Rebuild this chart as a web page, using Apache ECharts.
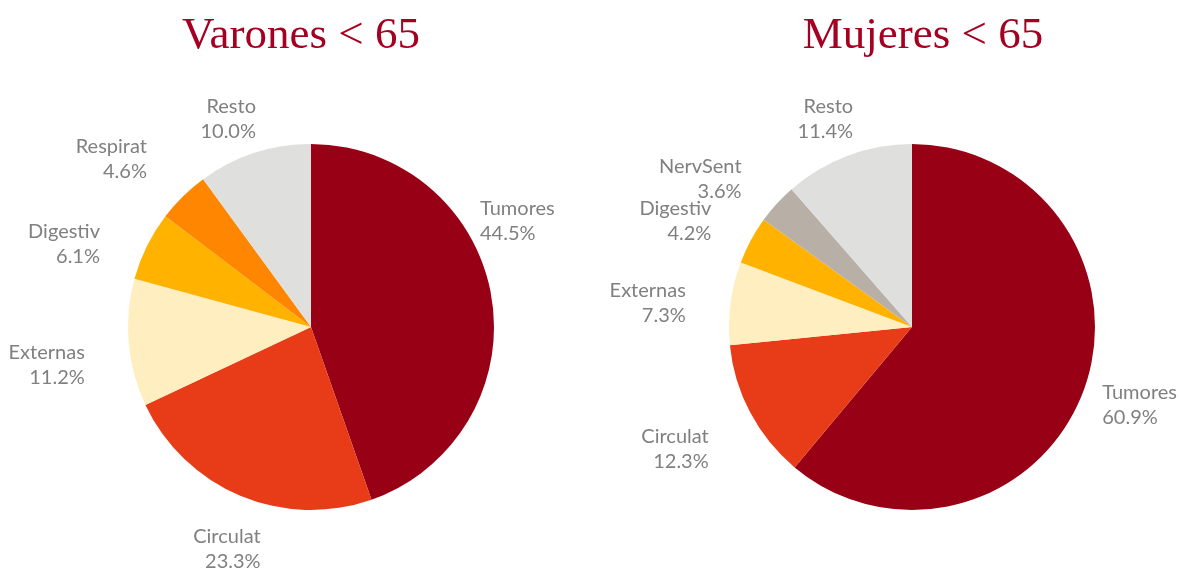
<!DOCTYPE html>
<html>
<head>
<meta charset="utf-8">
<script src="https://cdn.jsdelivr.net/npm/echarts@6/dist/echarts.min.js"></script>
<style>
  html, body { margin: 0; padding: 0; background: #fff; }
  #chart { width: 1179px; height: 570px; }
</style>
</head>
<body>
<div id="chart"></div>
<script>
  // datos (porcentaje de defunciones, menores de 65)
  const varonesNames = ['Tumores', 'Circulat', 'Externas', 'Digestiv', 'Respirat', 'Resto'];
  const varonesValues = [44.5, 23.3, 11.2, 6.1, 4.6, 10.0];
  const mujeresNames = ['Tumores', 'Circulat', 'Externas', 'Digestiv', 'NervSent', 'Resto'];
  const mujeresValues = [60.9, 12.3, 7.3, 4.2, 3.6, 11.4];

  const colores = {
    Tumores: '#980016',
    Circulat: '#e83c19',
    Externas: '#ffefc0',
    Digestiv: '#ffb300',
    Respirat: '#ff8600',
    NervSent: '#b8b0a6',
    Resto: '#dfe0de'
  };

  // ajuste fino de etiquetas (estilo, como en Excel "mejor ajuste")
  const ajusteEtiquetas = [
    [[-46, -70], [37, 26], [-9, 20], [-15, 11], [-10, -16], [16, -5]],
    [[-15, 5], [-10, 22], [-10, 4], [-8, -5], [-8, -4], [21, -9]]
  ];

  function buildData(names, values) {
    return names.map(function (n, i) {
      return { name: n, value: values[i], itemStyle: { color: colores[n] } };
    });
  }

  function pieSerie(names, values, cx) {
    return {
      type: 'pie',
      center: [cx, 327],
      radius: 183,
      startAngle: 90,
      clockwise: true,
      silent: true,
      avoidLabelOverlap: false,
      label: {
        show: true,
        position: 'outside',
        overflow: 'none',
        formatter: function (p) { return p.name + '\n' + p.value.toFixed(1) + '%'; },
        fontFamily: 'Lato',
        fontSize: 20,
        lineHeight: 25,
        color: '#808080'
      },
      labelLine: { show: false, length: 30, length2: 0 },
      labelLayout: function (p) {
        const d = ajusteEtiquetas[p.seriesIndex][p.dataIndex];
        return { dx: d[0], dy: d[1], hideOverlap: false };
      },
      itemStyle: { borderWidth: 0 },
      data: buildData(names, values)
    };
  }

  const tituloEstilo = { fontFamily: 'Liberation Serif', fontSize: 45, fontWeight: 'normal', color: '#a50021' };

  let chart = echarts.init(document.getElementById('chart'));
  chart.setOption({
    animation: false,
    title: [
      { text: 'Varones < 65', left: 296, top: 9, textAlign: 'center', textStyle: tituloEstilo },
      { text: 'Mujeres < 65', left: 918, top: 9, textAlign: 'center', textStyle: tituloEstilo }
    ],
    series: [
      pieSerie(varonesNames, varonesValues, 311),
      pieSerie(mujeresNames, mujeresValues, 912)
    ]
  });
</script>
</body>
</html>
